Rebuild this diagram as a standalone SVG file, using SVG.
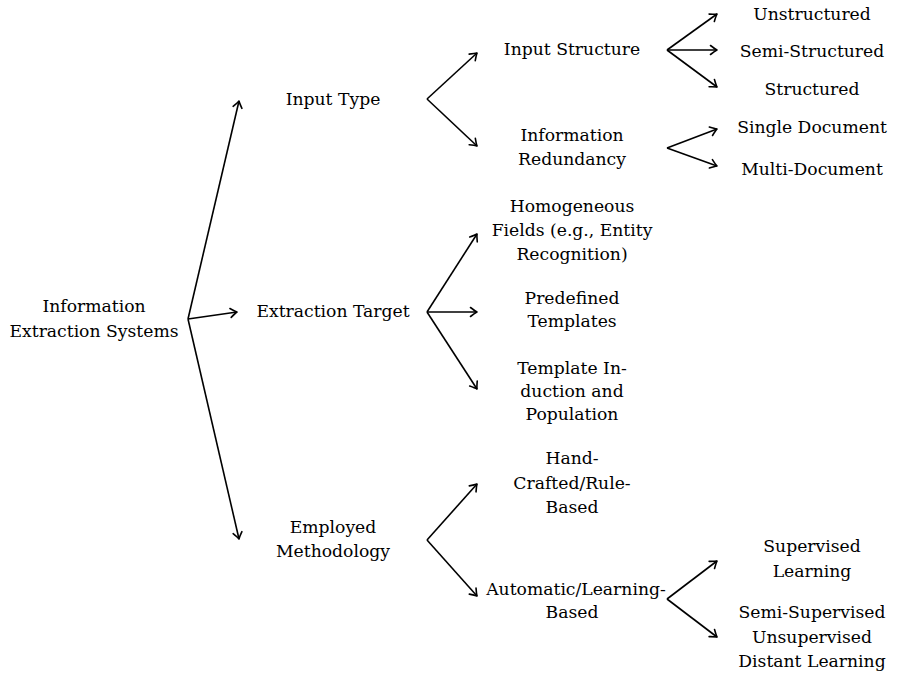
<svg xmlns="http://www.w3.org/2000/svg" width="899" height="676" viewBox="0 0 899 676">
<defs>
<style>
text{font-family:"DejaVu Serif","Liberation Serif",serif;font-size:17.2px;fill:#000;text-anchor:middle}
.c{fill:none;stroke:#000;stroke-width:1.6;marker-end:url(#ah)}
</style>
<marker id="ah" markerUnits="userSpaceOnUse" viewBox="-8 -6 10 12" refX="0" refY="0" markerWidth="10" markerHeight="12" orient="auto">
<path d="M-6.5,-4.5 Q-2,-1 0,0 Q-2,1 -6.5,4.5" fill="none" stroke="#000" stroke-width="1.6" stroke-linecap="round" stroke-linejoin="round"/>
</marker>
</defs>
<rect width="899" height="676" fill="#fff"/>
<g id="connectors">
<line class="c" x1="188" y1="319" x2="239" y2="101"/>
<line class="c" x1="188" y1="319" x2="237" y2="312"/>
<line class="c" x1="188" y1="319" x2="239" y2="539"/>
<line class="c" x1="427" y1="99" x2="477" y2="53"/>
<line class="c" x1="427" y1="99" x2="477" y2="146"/>
<line class="c" x1="667" y1="50" x2="717" y2="14"/>
<line class="c" x1="667" y1="50" x2="717" y2="50"/>
<line class="c" x1="667" y1="50" x2="717" y2="87"/>
<line class="c" x1="667" y1="148" x2="717" y2="129"/>
<line class="c" x1="667" y1="148" x2="717" y2="166"/>
<line class="c" x1="427" y1="312" x2="477" y2="234"/>
<line class="c" x1="427" y1="312" x2="477" y2="312"/>
<line class="c" x1="427" y1="312" x2="477" y2="389"/>
<line class="c" x1="427" y1="540" x2="477" y2="484"/>
<line class="c" x1="427" y1="540" x2="477" y2="596"/>
<line class="c" x1="667" y1="599" x2="717" y2="561"/>
<line class="c" x1="667" y1="599" x2="717" y2="637"/>
</g>
<g id="root"><text x="94" y="312">Information</text><text x="94" y="337">Extraction Systems</text></g>
<g id="input-type"><text x="333" y="105">Input Type</text></g>
<g id="extraction-target"><text x="333" y="317">Extraction Target</text></g>
<g id="employed-methodology"><text x="333" y="533">Employed</text><text x="333" y="557">Methodology</text></g>
<g id="input-structure"><text x="572" y="55">Input Structure</text></g>
<g id="information-redundancy"><text x="572" y="141">Information</text><text x="572" y="165">Redundancy</text></g>
<g id="unstructured"><text x="812" y="20">Unstructured</text></g>
<g id="semi-structured"><text x="812" y="57">Semi-Structured</text></g>
<g id="structured"><text x="812" y="95">Structured</text></g>
<g id="single-document"><text x="812" y="133">Single Document</text></g>
<g id="multi-document"><text x="812" y="175">Multi-Document</text></g>
<g id="homogeneous-fields"><text x="572" y="212">Homogeneous</text><text x="572" y="236">Fields (e.g., Entity</text><text x="572" y="260">Recognition)</text></g>
<g id="predefined-templates"><text x="572" y="304">Predefined</text><text x="572" y="327">Templates</text></g>
<g id="template-induction"><text x="572" y="374">Template In-</text><text x="572" y="397">duction and</text><text x="572" y="420">Population</text></g>
<g id="hand-crafted"><text x="572" y="464">Hand-</text><text x="572" y="489">Crafted/Rule-</text><text x="572" y="513">Based</text></g>
<g id="automatic-learning"><text x="576" y="595">Automatic/Learning-</text><text x="572" y="618">Based</text></g>
<g id="supervised"><text x="812" y="552">Supervised</text><text x="812" y="577">Learning</text></g>
<g id="semi-supervised"><text x="812" y="618">Semi-Supervised</text><text x="812" y="643">Unsupervised</text><text x="812" y="667">Distant Learning</text></g>
</svg>
